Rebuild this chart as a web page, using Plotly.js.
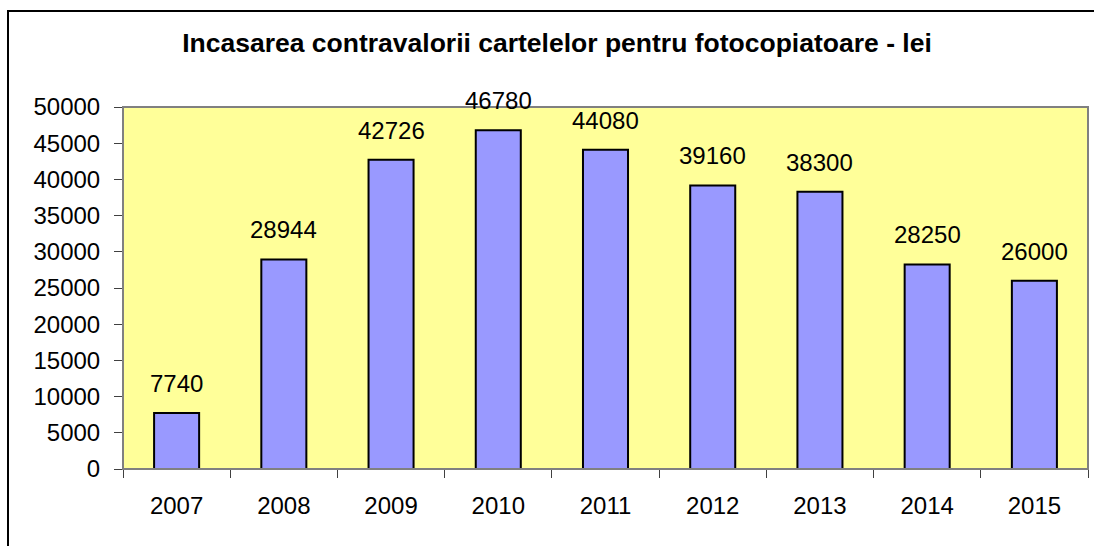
<!DOCTYPE html>
<html>
<head>
<meta charset="utf-8">
<script src="https://cdn.plot.ly/plotly-3.0.1.min.js"></script>
<style>
  html, body { margin: 0; padding: 0; overflow: hidden; background: #fff; }
  #wrap { position: relative; width: 1094px; height: 546px; }
  #frame { position: absolute; left: 7px; top: 10px; width: 1200px; height: 700px;
           border: 2px solid #000; pointer-events: none; box-sizing: border-box; }
</style>
</head>
<body>
<div id="wrap">
  <div id="chart" style="width:1094px;height:546px;"></div>
  <div id="frame"></div>
</div>
<script>
const years = ['2007', '2008', '2009', '2010', '2011', '2012', '2013', '2014', '2015'];
const values = [7740, 28944, 42726, 46780, 44080, 39160, 38300, 28250, 26000];
const titleText = 'Incasarea contravalorii cartelelor pentru fotocopiatoare - lei';

const FONT = '"Liberation Sans", Arial, sans-serif';

const trace = {
  type: 'bar',
  x: years,
  y: values,
  marker: { color: '#9999FF', line: { color: '#000000', width: 2 } },
  hoverinfo: 'x+y'
};

// category index used for x so numeric-looking labels are not read as indices
const annotations = years.map((yr, i) => ({
  x: i, y: values[i], xref: 'x', yref: 'y',
  text: String(values[i]), showarrow: false,
  yanchor: 'bottom', yshift: 14,
  font: { family: FONT, size: 24, color: '#000' }
}));

const layout = {
  width: 1094, height: 546,
  margin: { l: 123, r: 6, t: 107, b: 77, pad: 0 },
  paper_bgcolor: '#FFFFFF',
  plot_bgcolor: '#FFFF99',
  bargap: 0.58,
  showlegend: false,
  font: { family: FONT, size: 24, color: '#000' },
  title: {
    text: '<b>' + titleText + '</b>',
    font: { family: FONT, size: 26.5, color: '#000' },
    x: 557 / 1094, xref: 'container', xanchor: 'center',
    y: 1 - 43 / 546, yref: 'container', yanchor: 'middle'
  },
  xaxis: {
    type: 'category',
    range: [-0.5, years.length - 0.5],
    tickson: 'boundaries',
    ticks: 'outside', ticklen: 8, tickwidth: 1, tickcolor: '#404040',
    showline: true, linecolor: '#404040', linewidth: 1,
    showgrid: false, zeroline: false,
    ticklabelstandoff: 15,
    tickangle: 0,
    tickfont: { family: FONT, size: 24, color: '#000' }
  },
  yaxis: {
    range: [0, 50000], dtick: 5000, tick0: 0,
    tickformat: 'd',
    ticks: 'outside', ticklen: 8, tickwidth: 1, tickcolor: '#404040',
    showline: true, linecolor: '#404040', linewidth: 1,
    showgrid: false, zeroline: false,
    ticklabelstandoff: 9,
    tickfont: { family: FONT, size: 24, color: '#000' }
  },
  shapes: [{
    type: 'rect', xref: 'paper', yref: 'paper', x0: 0, x1: 1, y0: 0, y1: 1,
    line: { color: '#808080', width: 2 }, fillcolor: 'rgba(0,0,0,0)', layer: 'above'
  }],
  annotations: annotations
};

Plotly.newPlot('chart', [trace], layout, { displayModeBar: false, staticPlot: true });
</script>
</body>
</html>
